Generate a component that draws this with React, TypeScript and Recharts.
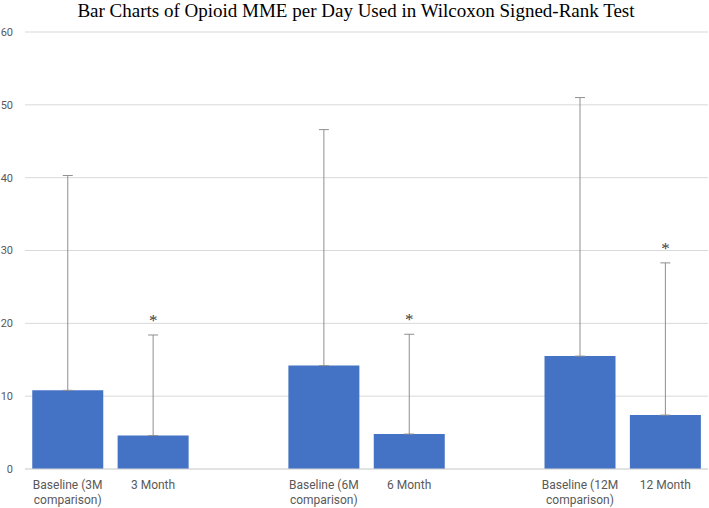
import React from "react";
import { BarChart, Bar, XAxis, YAxis, CartesianGrid, ErrorBar, LabelList } from "recharts";

const categories = [
  "Baseline (3M\ncomparison)",
  "3 Month",
  "",
  "Baseline (6M\ncomparison)",
  "6 Month",
  "",
  "Baseline (12M\ncomparison)",
  "12 Month",
];
const means: (number | null)[] = [10.8, 4.6, null, 14.2, 4.8, null, 15.5, 7.4];
const plusErrors: (number | null)[] = [29.5, 13.8, null, 32.4, 13.7, null, 35.5, 20.9];
const significance = ["", "*", "", "", "*", "", "", "*"];
const yTicks = [0, 10, 20, 30, 40, 50, 60];

const data = categories.map((name, i) => ({
  name,
  mean: means[i],
  err: plusErrors[i] == null ? null : [0, plusErrors[i] as number],
  sig: significance[i],
}));

const TickLabel = (props: any) => {
  const { x, y, payload } = props;
  const lines = String(payload.value).split("\n");
  return (
    <text
      x={x}
      y={y}
      textAnchor="middle"
      fill="#595959"
      fontSize={12}
      fontFamily="Roboto, sans-serif"
    >
      {lines.map((l, i) => (
        <tspan key={i} x={x} dy={i === 0 ? 12 : 15}>
          {l}
        </tspan>
      ))}
    </text>
  );
};

const SigLabel = (props: any) => {
  const { x, y, width, height, value } = props;
  const i = categories.indexOf(String(value));
  if (i < 0) return null;
  const mark = significance[i];
  if (!mark) return null;
  const m = means[i] as number;
  const e = plusErrors[i] as number;
  if (!m || !height) return null;
  const perUnit = height / m;
  const bottom = y + height;
  const top = bottom - (m + e) * perUnit;
  return (
    <text
      x={x + width / 2}
      y={top - 9}
      textAnchor="middle"
      fill="#404040"
      fontSize={17}
      fontFamily="'Liberation Serif', serif"
    >
      {mark}
    </text>
  );
};

export default function App() {
  return (
    <div style={{ position: "absolute", left: 0, top: 0, width: 709, height: 508, background: "#fff" }}>
      <div
        style={{
          position: "absolute",
          left: 0,
          top: 0,
          width: 712,
          textAlign: "center",
          fontFamily: "'Liberation Serif', serif",
          fontSize: 19,
          color: "#000",
          lineHeight: "22px",
        }}
      >
        Bar Charts of Opioid MME per Day Used in Wilcoxon Signed-Rank Test
      </div>
      <BarChart
        width={709}
        height={508}
        data={data}
        margin={{ top: 32, right: 1, left: 0, bottom: 0 }}
        barCategoryGap="8.5%"
      >
        <CartesianGrid vertical={false} stroke="#d9d9d9" />
        <XAxis
          dataKey="name"
          axisLine={{ stroke: "#d9d9d9" }}
          tickLine={false}
          height={39}
          interval={0}
          tick={<TickLabel />}
        />
        <YAxis
          domain={[0, 60]}
          ticks={yTicks}
          width={25}
          axisLine={false}
          tickLine={false}
          tickMargin={6}
          tick={{ fill: "#595959", fontSize: 11, fontFamily: "Roboto, sans-serif" }}
        />
        <Bar dataKey="mean" fill="#4472C4" isAnimationActive={false}>
          <ErrorBar dataKey="err" direction="y" width={5} stroke="#8f8f8f" strokeWidth={1} />
          <LabelList dataKey="name" content={<SigLabel />} />
        </Bar>
      </BarChart>
    </div>
  );
}
